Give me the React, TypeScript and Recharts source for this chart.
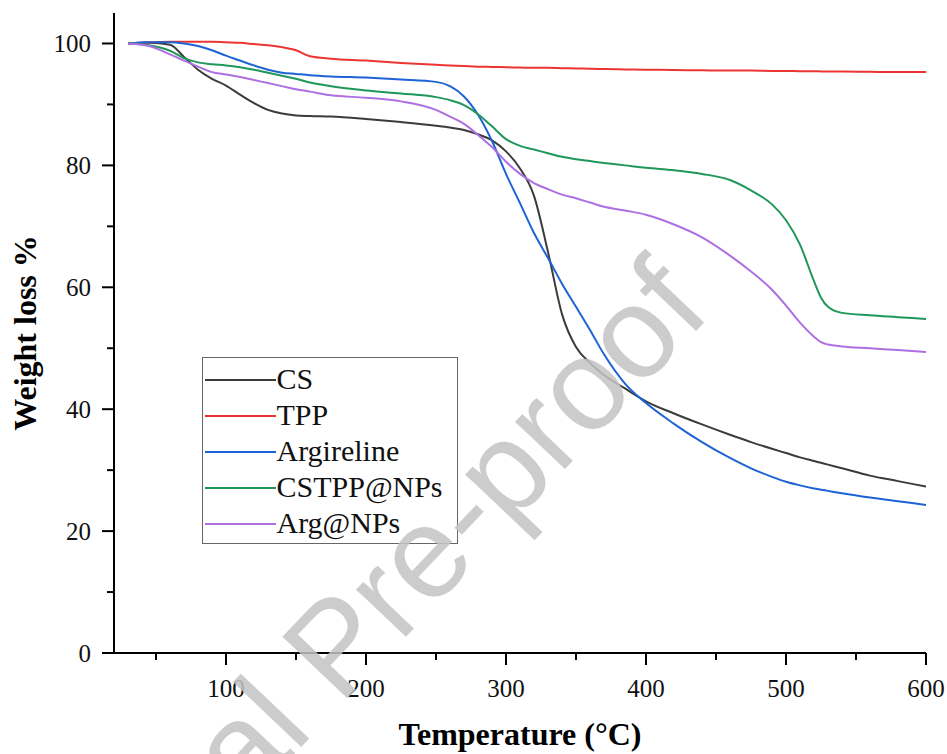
import { LineChart, Line, XAxis, YAxis, Legend, Label } from "recharts";

const SERIF = "'Liberation Serif', 'Times New Roman', serif";

// temperature grid (°C) shared by all TGA curves
const temps = [
  30, 45, 60, 70, 80, 90, 100, 110, 120, 130,
  140, 150, 160, 175, 200, 225, 250, 260, 270, 280,
  290, 300, 310, 320, 330, 340, 350, 360, 370, 385,
  400, 420, 440, 460, 475, 490, 500, 510, 520, 525,
  530, 540, 560, 580, 600,
];

const csLoss = [
  100, 100.1, 99.8, 97.8, 95.7, 94.2, 93.1, 91.6, 90.2, 89.1,
  88.5, 88.2, 88.1, 88.0, 87.6, 87.1, 86.5, 86.2, 85.8, 85.1,
  84.1, 82.3, 79.5, 75.0, 65.8, 55.6, 50.2, 47.6, 45.6, 43.4,
  41.3, 39.3, 37.5, 35.8, 34.6, 33.5, 32.8, 32.1, 31.5, 31.2,
  30.9, 30.3, 29.1, 28.2, 27.3,
];

const tppLoss = [
  100, 100.2, 100.3, 100.3, 100.3, 100.3, 100.2, 100.1, 99.9, 99.7,
  99.4, 98.9, 97.9, 97.5, 97.2, 96.8, 96.5, 96.4, 96.3, 96.2,
  96.15, 96.1, 96.05, 96.0, 96.0, 95.95, 95.9, 95.85, 95.8, 95.75,
  95.7, 95.65, 95.6, 95.55, 95.55, 95.5, 95.5, 95.45, 95.45, 95.4,
  95.4, 95.4, 95.35, 95.3, 95.3,
];

const argirelineLoss = [
  100, 100.2, 100.2, 100.0, 99.6, 98.9, 98.0, 97.2, 96.4, 95.7,
  95.2, 95.0, 94.8, 94.6, 94.4, 94.1, 93.7, 93.0, 91.3, 88.3,
  84.0, 78.6, 73.8, 68.9, 64.8, 60.6, 56.8, 53.0, 49.0, 44.2,
  41.0, 37.6, 34.6, 32.0, 30.3, 28.9, 28.1, 27.5, 27.0, 26.8,
  26.6, 26.2, 25.5, 24.9, 24.3,
];

const cstppLoss = [
  100, 99.7, 98.8, 97.6, 96.9, 96.6, 96.4, 96.1, 95.7, 95.2,
  94.7, 94.2, 93.6, 93.0, 92.3, 91.8, 91.2, 90.7, 89.9, 88.4,
  86.4, 84.3, 83.2, 82.6, 82.0, 81.4, 81.0, 80.7, 80.4, 80.0,
  79.6, 79.2, 78.6, 77.6, 75.9, 73.6, 71.0, 67.0, 61.0, 58.3,
  56.8, 55.8, 55.4, 55.1, 54.8,
];

const argNpLoss = [
  100, 99.6, 98.2, 97.2, 96.2, 95.3, 94.9, 94.5, 94.0, 93.5,
  93.0, 92.5, 92.1, 91.5, 91.1, 90.5, 89.1, 88.0, 86.8, 85.0,
  83.0, 80.6, 78.6, 77.1, 76.1, 75.2, 74.6, 73.9, 73.2, 72.6,
  71.9, 70.3, 68.2, 65.2, 62.6, 59.6, 57.0, 54.2, 51.9, 51.0,
  50.6, 50.3, 50.0, 49.7, 49.4,
];

const xTicks = [50, 100, 150, 200, 250, 300, 350, 400, 450, 500, 550, 600];
const yTicks = [0, 10, 20, 30, 40, 50, 60, 70, 80, 90, 100];

const SERIES = [
  { key: "cs", name: "CS", color: "#3b3b3b", values: csLoss },
  { key: "tpp", name: "TPP", color: "#ec3434", values: tppLoss },
  { key: "arg", name: "Argireline", color: "#1e63d6", values: argirelineLoss },
  { key: "cstpp", name: "CSTPP@NPs", color: "#1f975a", values: cstppLoss },
  { key: "argnp", name: "Arg@NPs", color: "#ad6fe2", values: argNpLoss },
];

const rows = temps.map((t, i) => {
  const r: Record<string, number> = { t };
  SERIES.forEach((s) => (r[s.key] = s.values[i]));
  return r;
});

const tickText = { fontFamily: SERIF, fontSize: 25, fill: "#111" };

function XTick({ x, y, payload }: any) {
  const major = payload.value % 100 === 0;
  return (
    <g>
      <line x1={x} y1={y} x2={x} y2={y + (major ? 12 : 7)} stroke="#000" strokeWidth={2} />
      {major && (
        <text x={x} y={y + 44} textAnchor="middle" style={tickText}>
          {payload.value}
        </text>
      )}
    </g>
  );
}

function YTick({ x, y, payload }: any) {
  const major = payload.value % 20 === 0;
  return (
    <g>
      <line x1={x - (major ? 12 : 7)} y1={y} x2={x} y2={y} stroke="#000" strokeWidth={2} />
      {major && (
        <text x={x - 23} y={y + 8.5} textAnchor="end" style={tickText}>
          {payload.value}
        </text>
      )}
    </g>
  );
}

const titleText = { fontFamily: SERIF, fontSize: 32, fontWeight: "bold" as const, fill: "#000" };

function XTitle({ viewBox }: any) {
  return (
    <text x={viewBox.x + viewBox.width / 2} y={viewBox.y + 92} textAnchor="middle" style={titleText}>
      Temperature (°C)
    </text>
  );
}

function YTitle({ viewBox }: any) {
  const cx = viewBox.x + 36;
  const cy = viewBox.y + viewBox.height / 2;
  return (
    <text x={cx} y={cy} transform={`rotate(-90 ${cx} ${cy})`} textAnchor="middle" style={titleText}>
      Weight loss %
    </text>
  );
}

function LegendBox() {
  return (
    <div
      style={{
        border: "1.5px solid #666",
        background: "#fff",
        padding: "2.5px 0",
        boxSizing: "border-box",
        width: 256,
      }}
    >
      {SERIES.map((s) => (
        <div key={s.key} style={{ display: "flex", alignItems: "center", height: 36 }}>
          <span
            style={{ display: "inline-block", width: 71, height: 2, background: s.color, marginLeft: 1.5, marginTop: 2 }}
          />
          <span style={{ marginLeft: 1, fontFamily: SERIF, fontSize: 30, lineHeight: "36px", color: "#111" }}>
            {s.name}
          </span>
        </div>
      ))}
    </div>
  );
}

export default function App() {
  return (
    <div style={{ position: "absolute", left: 0, top: 0, width: 947, height: 754, background: "#fff" }}>
      <LineChart width={947} height={754} data={rows} margin={{ top: 13, right: 21, bottom: 0, left: 0 }}>
        <XAxis
          dataKey="t"
          type="number"
          domain={[20, 600]}
          ticks={xTicks}
          interval={0}
          height={101}
          tickSize={0}
          tickMargin={0}
          tickLine={false}
          tick={<XTick />}
          axisLine={{ stroke: "#000", strokeWidth: 2 }}
          allowDataOverflow
        >
          <Label content={<XTitle />} />
        </XAxis>
        <YAxis
          type="number"
          domain={[0, 105]}
          ticks={yTicks}
          interval={0}
          width={114}
          tickSize={0}
          tickMargin={0}
          tickLine={false}
          tick={<YTick />}
          axisLine={{ stroke: "#000", strokeWidth: 2 }}
          allowDataOverflow
        >
          <Label content={<YTitle />} />
        </YAxis>
        <Legend
          content={<LegendBox />}
          layout="vertical"
          align="center"
          verticalAlign="middle"
          wrapperStyle={{ left: 202, top: 357, width: 256 }}
        />
        {SERIES.map((s) => (
          <Line
            key={s.key}
            type="monotone"
            dataKey={s.key}
            name={s.name}
            stroke={s.color}
            strokeWidth={2}
            dot={false}
            activeDot={false}
            isAnimationActive={false}
          />
        ))}
      </LineChart>
      <svg width={947} height={754} style={{ position: "absolute", left: 0, top: 0, pointerEvents: "none" }}>
        <text
          x={713}
          y={313}
          transform="rotate(-46.5 713 313)"
          textAnchor="end"
          fontSize={130}
          fontFamily="'Liberation Sans', Arial, sans-serif"
          fill="#c4c4c4"
          opacity={0.85}
        >
          Journal Pre-proof
        </text>
      </svg>
    </div>
  );
}
